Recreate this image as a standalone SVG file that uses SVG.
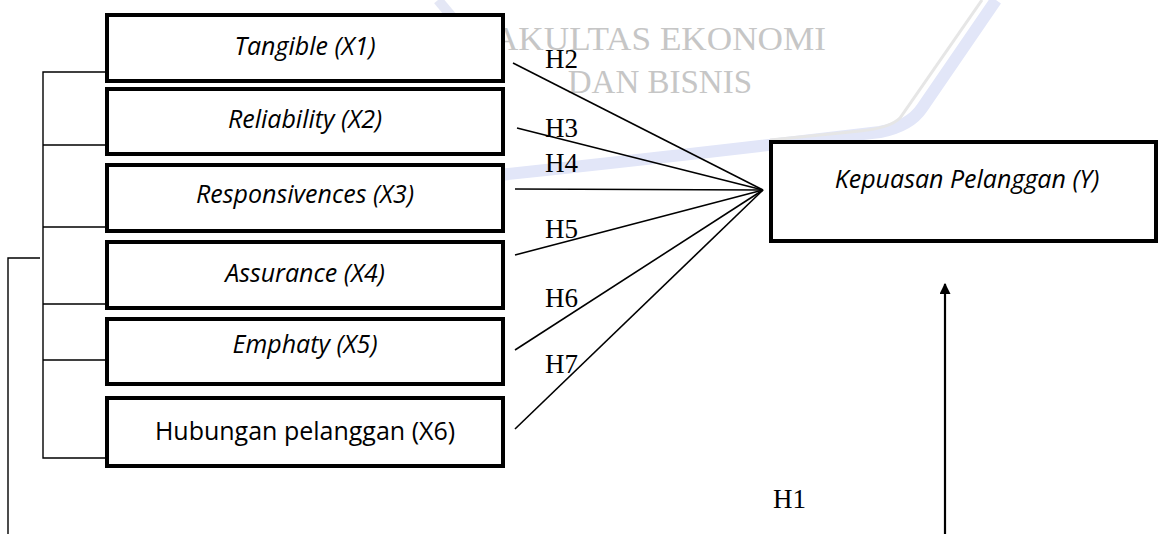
<svg xmlns="http://www.w3.org/2000/svg" width="1158" height="534" viewBox="0 0 1158 534">
<style>
.box{fill:#fff;stroke:#000;stroke-width:4}
.lbl{font-family:"Open Sans","Liberation Sans",sans-serif;font-size:25px;fill:#000;text-anchor:middle}
.it{font-style:italic}
.h{font-family:"Liberation Serif","Times New Roman",serif;font-size:27px;fill:#000}
.ln{stroke:#000;stroke-width:1.6;fill:none}
.br{stroke:#000;stroke-width:1.4;fill:none}
.wm{font-family:"Liberation Serif",serif;font-size:33px;fill:#c6c6c6}
</style>
<defs>
<marker id="ah" viewBox="0 0 10 10" refX="9" refY="5" markerWidth="5" markerHeight="5" orient="auto">
<path d="M0,0 L10,5 L0,10 z" fill="#000"/>
</marker>
</defs>
<rect width="1158" height="534" fill="#fff"/>
<g id="watermark">
<path d="M996 0 L922 108 Q910 126 880 132 L760 146 Q640 160 490 176" stroke="#e2e6f8" stroke-width="12" fill="none"/>
<path d="M982 0 L900 118 Q890 128 860 131 L770 140" stroke="#e6e6e6" stroke-width="3" fill="none"/>
<path d="M438 0 L468 36" stroke="#e4e7f5" stroke-width="10" fill="none"/>
<text class="wm" x="476" y="50" textLength="350" lengthAdjust="spacingAndGlyphs">FAKULTAS EKONOMI</text>
<text class="wm" x="752" y="93" text-anchor="end">DAN BISNIS</text>
</g>
<g id="connectors">
<line class="ln" x1="513" y1="63" x2="763" y2="190"/>
<line class="ln" x1="517" y1="128" x2="763" y2="190"/>
<line class="ln" x1="515" y1="189" x2="763" y2="190"/>
<line class="ln" x1="515" y1="255" x2="763" y2="190"/>
<line class="ln" x1="515" y1="350" x2="763" y2="190"/>
<line class="ln" x1="515" y1="429" x2="763" y2="190"/>
<path class="br" d="M105 72 H43 V458 H105 M43 145 H105 M43 227 H105 M43 304 H105 M43 360 H105"/>
<path class="br" d="M40 258 H8 V534"/>
<line x1="945" y1="534" x2="945" y2="284" stroke="#000" stroke-width="2.2" marker-end="url(#ah)"/>
<text class="h" x="545" y="68">H2</text>
<text class="h" x="545" y="137">H3</text>
<text class="h" x="545" y="172">H4</text>
<text class="h" x="545" y="238">H5</text>
<text class="h" x="545" y="307">H6</text>
<text class="h" x="545" y="373">H7</text>
<text class="h" x="773" y="508">H1</text>
</g>
<g id="x1"><rect class="box" x="107" y="15" width="396" height="66"/><text class="lbl it" x="305" y="55">Tangible (X1)</text></g>
<g id="x2"><rect class="box" x="107" y="89" width="396" height="65"/><text class="lbl it" x="305" y="128">Reliability (X2)</text></g>
<g id="x3"><rect class="box" x="107" y="165" width="396" height="66"/><text class="lbl it" x="305" y="203">Responsivences (X3)</text></g>
<g id="x4"><rect class="box" x="107" y="242" width="396" height="66"/><text class="lbl it" x="305" y="282">Assurance (X4)</text></g>
<g id="x5"><rect class="box" x="107" y="319" width="396" height="65"/><text class="lbl it" x="305" y="353">Emphaty (X5)</text></g>
<g id="x6"><rect class="box" x="107" y="398" width="396" height="68"/><text class="lbl" x="305" y="440">Hubungan pelanggan (X6)</text></g>
<g id="y"><rect class="box" x="771" y="142" width="385" height="99"/><text class="lbl it" x="967" y="188">Kepuasan Pelanggan (Y)</text></g>
</svg>
